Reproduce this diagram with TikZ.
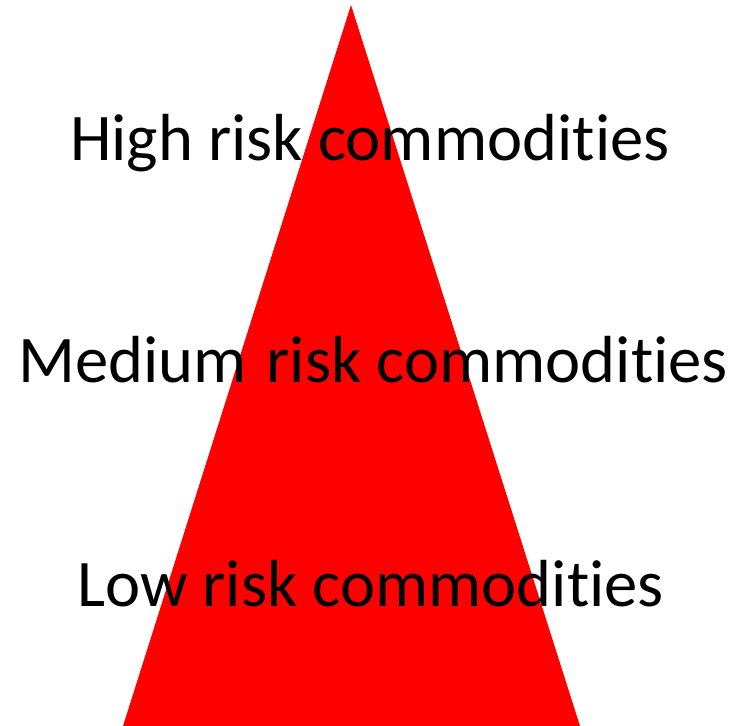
\documentclass[tikz,border=0pt]{standalone}
\usepackage{fontspec}
\setmainfont[Ligatures=CommonOff]{Carlito}
\definecolor{tri}{HTML}{FF0000}
\begin{document}
\begin{tikzpicture}[x=1pt,y=-1pt,
  lbl/.style={anchor=base west,inner sep=0pt,font=\fontsize{66.6}{70}\selectfont}]
\useasboundingbox (0,0) rectangle (740,726);
\fill[tri] (351,5) -- (580,726) -- (123,726) -- cycle;
\node[lbl] (high) at (70,160) {High risk commodities};
\node[lbl] (med) at (18,382) {Medium\hspace{0.3em}risk commodities};
\node[lbl] (low) at (77,606) {Low risk commodities};
\end{tikzpicture}
\end{document}
